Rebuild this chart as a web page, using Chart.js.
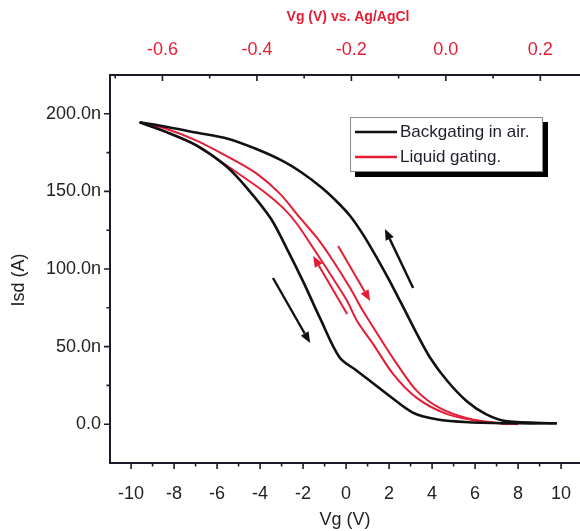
<!DOCTYPE html>
<html>
<head>
<meta charset="utf-8">
<script src="https://cdn.jsdelivr.net/npm/chart.js@4.4.1/dist/chart.umd.min.js"></script>
<style>
  html, body { margin: 0; padding: 0; background: #ffffff; overflow: hidden; }
  canvas { display: block; }
</style>
</head>
<body>
<canvas id="c" width="580" height="531"></canvas>
<script>
// ---------- data (Vg in V, Isd in nA) ----------
const airForwardVg  = [-9.6, -8.4, -7.0, -5.6, -4.6, -3.5, -2.75, -2.0, -1.2, -0.3, 0.5, 1.9, 3.1, 4.2, 5.7, 8.0, 9.8];
const airForwardIsd = [194.5, 188.5, 180.0, 166.5, 152.0, 132.5, 113.0, 92.0, 68.0, 43.0, 34.5, 19.5, 7.5, 3.2, 1.3, 0.6, 0.6];

const airReverseVg  = [9.8, 7.5, 6.5, 5.6, 4.7, 3.9, 3.3, 2.6, 2.0, 1.4, 0.8, 0.2, -0.4, -1.1, -2.1, -3.0, -4.2, -5.5, -7.0, -8.5, -9.6];
const airReverseIsd = [0.6, 1.8, 6.5, 15.0, 28.0, 43.0, 58.0, 77.0, 93.0, 108.0, 122.0, 134.0, 143.0, 152.0, 162.5, 170.0, 177.5, 184.0, 188.0, 192.0, 194.5];

const liqForwardVg  = [-9.6, -8.51, -6.93, -5.40, -4.14, -3.07, -2.14, -1.35, -0.60, 0.19, 0.79, 1.58, 2.37, 3.30, 4.37, 5.63, 7.16, 8.00];
const liqForwardIsd = [194.5, 191.0, 182.6, 171.6, 161.3, 148.4, 132.9, 120.0, 105.2, 87.7, 72.9, 55.5, 38.7, 21.3, 10.3, 3.9, 0.6, 0.0];

const liqReverseVg  = [7.49, 6.23, 4.70, 3.30, 2.19, 1.26, 0.51, 0.05, -0.74, -1.53, -2.28, -2.93, -3.86, -5.40, -6.93, -8.51, -9.6];
const liqReverseIsd = [0.0, 1.9, 6.5, 16.8, 32.3, 51.6, 66.5, 79.4, 96.8, 113.5, 129.0, 139.4, 150.3, 165.2, 179.4, 189.0, 194.5];

// sweep-direction arrows: [startVg, startIsd, endVg, endIsd]
const airArrowDown = [-3.40, 94.2, -1.67, 52.3];
const airArrowUp   = [3.12, 87.7, 1.81, 125.8];
const liqArrowUp   = [0.05, 71.0, -1.53, 108.4];
const liqArrowDown = [-0.37, 114.8, 1.12, 79.4];

// axis ticks
const vgMajorTicks   = [-10, -8, -6, -4, -2, 0, 2, 4, 6, 8, 10];
const vgMinorTicks   = [-9, -7, -5, -3, -1, 1, 3, 5, 7, 9];
const refMajorTicks  = [-0.6, -0.4, -0.2, 0.0, 0.2];
const refMinorTicks  = [-0.7, -0.5, -0.3, -0.1, 0.1];
const isdMajorTicks  = [0, 50, 100, 150, 200];
const isdMinorTicks  = [25, 75, 125, 175];

const seriesNames = ['Backgating in air.', 'Liquid gating.'];
const BLACK = '#111111';
const RED = '#e41d35';
const AXIS = '#1c1c28';
const TEXT = '#222222';
const FONT = 'Liberation Sans, Arial, Helvetica, sans-serif';

function pts(xs, ys) { return xs.map((x, i) => ({ x: x, y: ys[i] })); }
function fixTicks(list) { return s => { s.ticks = list.map(v => ({ value: v })); }; }

const ticksPlugin = {
  id: 'customTicks',
  afterDraw(chart) {
    const ctx = chart.ctx;
    const a = chart.chartArea;
    const sx = chart.scales.x, st = chart.scales.xTop, sy = chart.scales.y;
    ctx.save();
    ctx.strokeStyle = AXIS;
    ctx.lineWidth = 1.6;
    ctx.beginPath();
    vgMajorTicks.forEach(v => { const p = sx.getPixelForValue(v); ctx.moveTo(p, a.bottom); ctx.lineTo(p, a.bottom + 6); });
    vgMinorTicks.forEach(v => { const p = sx.getPixelForValue(v); ctx.moveTo(p, a.bottom); ctx.lineTo(p, a.bottom + 3.5); });
    refMajorTicks.forEach(v => { const p = st.getPixelForValue(v); ctx.moveTo(p, a.top); ctx.lineTo(p, a.top + 6); });
    refMinorTicks.forEach(v => { const p = st.getPixelForValue(v); ctx.moveTo(p, a.top); ctx.lineTo(p, a.top + 3.5); });
    isdMajorTicks.forEach(v => { const p = sy.getPixelForValue(v); ctx.moveTo(a.left, p); ctx.lineTo(a.left - 6, p); });
    isdMinorTicks.forEach(v => { const p = sy.getPixelForValue(v); ctx.moveTo(a.left, p); ctx.lineTo(a.left - 3.5, p); });
    ctx.stroke();

    // arrows
    function arrow(arr, color, w) {
      const x0 = sx.getPixelForValue(arr[0]), y0 = sy.getPixelForValue(arr[1]);
      const x1 = sx.getPixelForValue(arr[2]), y1 = sy.getPixelForValue(arr[3]);
      const ang = Math.atan2(y1 - y0, x1 - x0);
      const hl = 11, hw = 4.5;
      const bx = x1 - hl * Math.cos(ang), by = y1 - hl * Math.sin(ang);
      ctx.strokeStyle = color; ctx.fillStyle = color; ctx.lineWidth = w; ctx.lineCap = 'butt';
      ctx.beginPath(); ctx.moveTo(x0, y0); ctx.lineTo(bx, by); ctx.stroke();
      ctx.beginPath();
      ctx.moveTo(x1, y1);
      ctx.lineTo(bx + hw * Math.sin(ang), by - hw * Math.cos(ang));
      ctx.lineTo(bx - hw * Math.sin(ang), by + hw * Math.cos(ang));
      ctx.closePath(); ctx.fill();
    }
    arrow(airArrowDown, BLACK, 2.4);
    arrow(airArrowUp, BLACK, 2.4);
    arrow(liqArrowUp, RED, 2);
    arrow(liqArrowDown, RED, 2);

    // legend
    const lx = 350, ly = 117, lw = 193, lh = 55;
    ctx.fillStyle = '#000';
    ctx.fillRect(lx + 5, ly + 5, lw, lh);
    ctx.fillStyle = '#fff';
    ctx.fillRect(lx, ly, lw, lh);
    ctx.strokeStyle = '#8a8a95'; ctx.lineWidth = 1;
    ctx.strokeRect(lx + 0.5, ly + 0.5, lw - 1, lh - 1);
    ctx.lineWidth = 2.4;
    ctx.strokeStyle = BLACK;
    ctx.beginPath(); ctx.moveTo(355, 132); ctx.lineTo(397, 132); ctx.stroke();
    ctx.strokeStyle = RED;
    ctx.beginPath(); ctx.moveTo(355, 157); ctx.lineTo(397, 157); ctx.stroke();
    ctx.fillStyle = '#1e1e2a';
    ctx.font = '17px ' + FONT;
    ctx.textBaseline = 'middle'; ctx.textAlign = 'left';
    ctx.fillText(seriesNames[0], 400, 132);
    ctx.fillText(seriesNames[1], 400, 157);

    // axis titles
    ctx.textAlign = 'center';
    ctx.fillStyle = TEXT;
    ctx.font = '18px ' + FONT;
    ctx.fillText('Vg (V)', 345, 520);
    ctx.save();
    ctx.translate(19, 280); ctx.rotate(-Math.PI / 2);
    ctx.fillText('Isd (A)', 0, 0);
    ctx.restore();
    ctx.fillStyle = RED;
    ctx.font = 'bold 14px ' + FONT;
    ctx.fillText('Vg (V) vs. Ag/AgCl', 348, 17);
    ctx.restore();
  }
};

new Chart(document.getElementById('c'), {
  type: 'scatter',
  data: {
    datasets: [
      { label: seriesNames[0], data: pts(airForwardVg, airForwardIsd), showLine: true, borderColor: BLACK, borderWidth: 2.6, pointRadius: 0, tension: 0.3, fill: false, xAxisID: 'x', yAxisID: 'y' },
      { label: seriesNames[0], data: pts(airReverseVg, airReverseIsd), showLine: true, borderColor: BLACK, borderWidth: 2.6, pointRadius: 0, tension: 0.3, fill: false, xAxisID: 'x', yAxisID: 'y' },
      { label: seriesNames[1], data: pts(liqForwardVg, liqForwardIsd), showLine: true, borderColor: RED, borderWidth: 2, pointRadius: 0, tension: 0.3, fill: false, xAxisID: 'x', yAxisID: 'y' },
      { label: seriesNames[1], data: pts(liqReverseVg, liqReverseIsd), showLine: true, borderColor: RED, borderWidth: 2, pointRadius: 0, tension: 0.3, fill: false, xAxisID: 'x', yAxisID: 'y' }
    ]
  },
  options: {
    responsive: false,
    animation: false,
    devicePixelRatio: 1,
    layout: { padding: 0 },
    plugins: { legend: { display: false }, tooltip: { enabled: false } },
    scales: {
      x: {
        type: 'linear', position: 'bottom', min: -10.98, max: 10.88,
        grid: { display: false, drawTicks: false },
        border: { display: true, color: AXIS, width: 2 },
        afterBuildTicks: fixTicks(vgMajorTicks),
        ticks: { padding: 20, color: TEXT, font: { family: FONT, size: 18 }, maxRotation: 0, autoSkip: false,
                 callback: v => String(Math.round(v)) },
        afterFit: s => { s.height = 68; s.paddingLeft = 0; s.paddingRight = 0; }
      },
      xTop: {
        type: 'linear', position: 'top', min: -0.711, max: 0.284,
        grid: { display: false, drawTicks: false },
        border: { display: true, color: AXIS, width: 2 },
        afterBuildTicks: fixTicks(refMajorTicks),
        ticks: { padding: 14, color: RED, font: { family: FONT, size: 18 }, maxRotation: 0, autoSkip: false,
                 callback: v => (Math.abs(v) < 1e-9 ? '0.0' : v.toFixed(1)) },
        afterFit: s => { s.height = 75; s.paddingLeft = 0; s.paddingRight = 0; }
      },
      y: {
        type: 'linear', position: 'left', min: -25, max: 225,
        grid: { display: false, drawTicks: false },
        border: { display: true, color: AXIS, width: 2 },
        afterBuildTicks: fixTicks(isdMajorTicks),
        ticks: { padding: 9, color: TEXT, font: { family: FONT, size: 18 },
                 callback: v => (v === 0 ? '0.0' : v.toFixed(1) + 'n') },
        afterFit: s => { s.width = 110; s.paddingTop = 0; s.paddingBottom = 0; }
      }
    }
  },
  plugins: [ticksPlugin]
});
</script>
</body>
</html>
